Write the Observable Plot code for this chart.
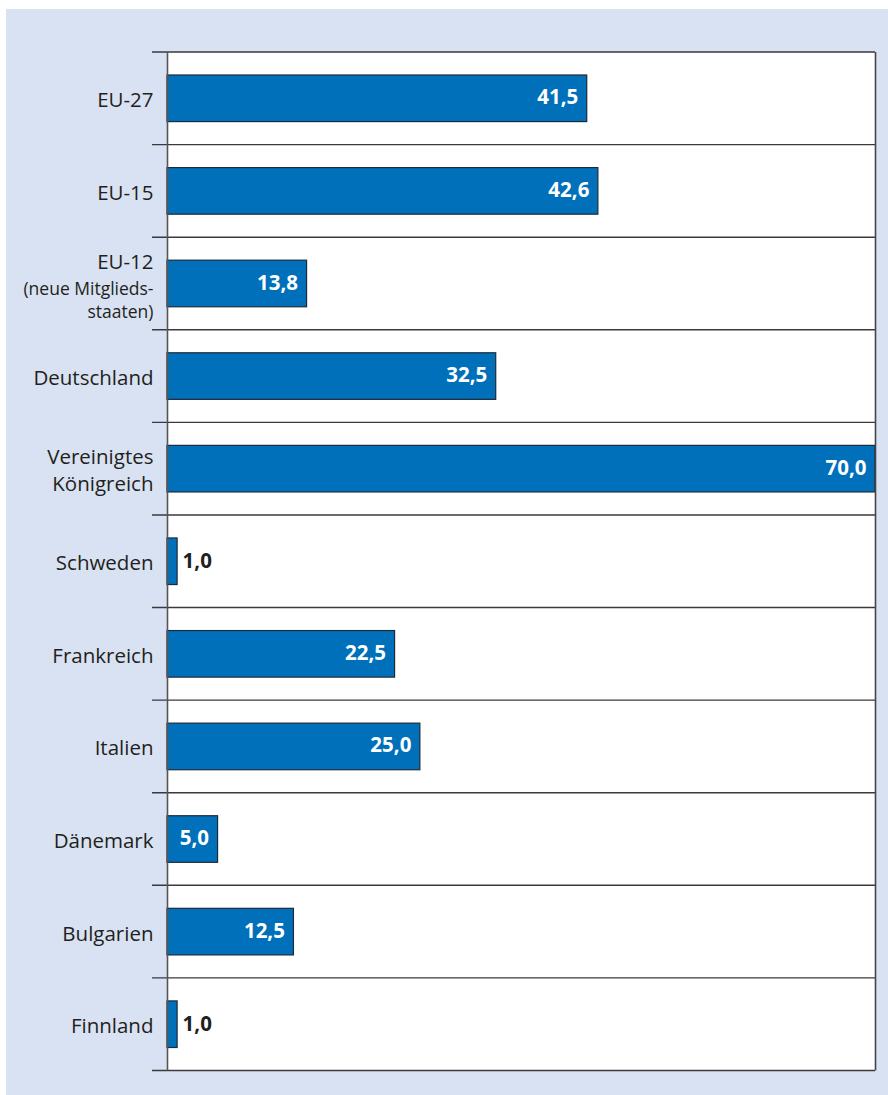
<!DOCTYPE html>
<html>
<head>
<meta charset="utf-8">
<script src="https://cdn.jsdelivr.net/npm/d3@7"></script>
<script src="https://cdn.jsdelivr.net/npm/@observablehq/plot@0.6"></script>
<style>
  html, body { margin: 0; padding: 0; background: #ffffff; }
  #wrap { position: relative; width: 888px; height: 1095px; }
  #bg { position: absolute; left: 6px; top: 9px; width: 882px; height: 1086px; background: #d9e2f2; }
  #chart { position: absolute; left: 0; top: 0; }
</style>
</head>
<body>
<div id="wrap"><div id="bg"></div><div id="chart"></div></div>
<script>
// ---- data ----
const categories = ["EU-27", "EU-15", "EU-12", "Deutschland", "Vereinigtes Königreich", "Schweden", "Frankreich", "Italien", "Dänemark", "Bulgarien", "Finnland"];
const values = [41.5, 42.6, 13.8, 32.5, 70.0, 1.0, 22.5, 25.0, 5.0, 12.5, 1.0];
const displayLabels = ["EU-27", "EU-15", "EU-12", "Deutschland", "Vereinigtes\nKönigreich", "Schweden", "Frankreich", "Italien", "Dänemark", "Bulgarien", "Finnland"];
const subLabelCategory = "EU-12";
const subLabel = "(neue Mitglieds-\nstaaten)";
const xDomain = [0, 70];

const data = categories.map((c, i) => ({cat: c, value: values[i], label: displayLabels[i]}));
const fmt = v => v.toLocaleString("de-DE", {minimumFractionDigits: 1, maximumFractionDigits: 1});
const outsideLimit = 3;

const font = "'Open Sans', 'Noto Sans', sans-serif";
const textColor = "#231f20";
const lineColor = "#3a3a3a";

// gridlines at band boundaries, with the short ticks into the left margin
function bandGrid(index, scales, vals, dims) {
  const y = scales.y;
  const bw = y.bandwidth();
  const ys = categories.map(c => y(c));
  ys.push(y(categories[categories.length - 1]) + bw);
  const g = d3.create("svg:g");
  g.selectAll("line").data(ys).join("line")
    .attr("x1", dims.marginLeft - 15)
    .attr("x2", dims.width - dims.marginRight)
    .attr("y1", d => d).attr("y2", d => d)
    .attr("stroke", lineColor).attr("stroke-width", 1.4);
  return g.node();
}

const plot = Plot.plot({
  width: 888,
  height: 1095,
  marginLeft: 167,
  marginRight: 13,
  marginTop: 52,
  marginBottom: 24.5,
  style: {background: "transparent", fontFamily: font},
  x: {domain: xDomain, axis: null},
  y: {domain: categories, padding: 0, round: false, axis: null},
  marks: [
    Plot.frame({fill: "white", stroke: null}),
    bandGrid,
    Plot.barX(data, {
      y: "cat", x: "value", fill: "#0070ba",
      stroke: "#1c2a3a", strokeWidth: 1.2,
      insetTop: 23, insetBottom: 23
    }),
    Plot.ruleX([0], {stroke: "#555", strokeWidth: 1.6}),
    Plot.ruleX([xDomain[1]], {stroke: "#444", strokeWidth: 1.6}),
    // category labels
    Plot.text(data.filter(d => d.cat !== subLabelCategory), {
      x: 0, y: "cat", text: "label", textAnchor: "end", dx: -14, dy: 0,
      fontSize: 20.5, fill: textColor, lineHeight: 1.3
    }),
    Plot.text(data.filter(d => d.cat === subLabelCategory), {
      x: 0, y: "cat", text: "label", textAnchor: "end", dx: -14, dy: -22,
      fontSize: 20.5, fill: textColor
    }),
    Plot.text(data.filter(d => d.cat === subLabelCategory), {
      x: 0, y: "cat", text: () => subLabel, textAnchor: "end", dx: -14, dy: 15,
      fontSize: 17.5, fill: textColor, lineHeight: 1.32
    }),
    // value labels inside bars
    Plot.text(data.filter(d => d.value >= outsideLimit), {
      x: "value", y: "cat", text: d => fmt(d.value), textAnchor: "end", dx: -9, dy: -1,
      fontSize: 20.5, fontWeight: "bold", fill: "white"
    }),
    // value labels outside small bars
    Plot.text(data.filter(d => d.value < outsideLimit), {
      x: "value", y: "cat", text: d => fmt(d.value), textAnchor: "start", dx: 5, dy: 0,
      fontSize: 20.5, fontWeight: "bold", fill: textColor
    })
  ]
});
document.getElementById("chart").appendChild(plot);
</script>
</body>
</html>
